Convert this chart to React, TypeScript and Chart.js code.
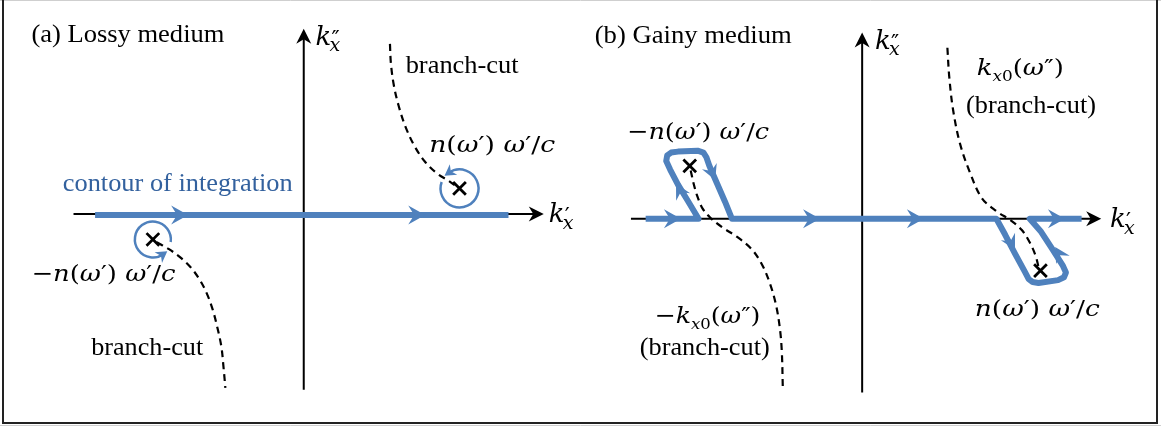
import React, { useEffect, useRef } from 'react';
import { Chart, registerables } from 'chart.js';

Chart.register(...registerables);

type P = { x: number; y: number };
const pts = (a: number[][]): P[] => a.map(([x, y]) => ({ x, y }));

// ---------------- Panel (a): lossy medium ----------------
const axisA_re = pts([[63, 214], [533, 214]]);
const axisA_im = pts([[298, 400], [298, 28]]);
const contourA = pts([[85, 215], [507, 215]]);
const branchCutA_lower = pts([
  [148, 244], [160, 251], [172, 260], [183, 271], [192, 284], [199, 298],
  [205, 315], [210, 335], [214, 355], [216, 375], [218, 398],
]);
const branchCutA_upper = pts([
  [386, 34], [387, 55], [390, 78], [395, 100], [402, 122], [411, 142],
  [422, 159], [434, 171], [446, 179], [454, 185],
]);
const polesA = pts([[457, 187], [144, 241]]);
const contourArrowsA = [
  { x: 180, y: 215, dx: 1, dy: 0 },
  { x: 422, y: 215, dx: 1, dy: 0 },
];
const loopsA = [
  { x: 457, y: 187, r: 19, from: -160, to: -125 },
  { x: 144, y: 241, r: 18, from: 8, to: 55 },
];

// ---------------- Panel (b): gainy medium ----------------
const axisB_re = pts([[632, 219], [1103, 219]]);
const axisB_im = pts([[868, 403], [868, 32]]);
const contourB = pts([
  [647, 219], [701, 219],
  [690, 200], [680, 183], [672, 167], [668, 158], [669, 152], [673, 149], [680, 148],
  [700, 147], [706, 149], [709, 154], [712, 163], [720, 182], [728, 201], [735, 219],
  [1005, 219],
  [1014, 236], [1024, 256], [1034, 275], [1038, 283], [1042, 286], [1048, 287],
  [1068, 284], [1074, 281], [1076, 276], [1073, 269], [1062, 251], [1050, 232], [1039, 219],
  [1092, 219],
]);
const branchCutB_left = pts([
  [693, 168], [696, 182], [700, 196], [705, 208], [713, 218], [725, 228], [740, 238],
  [755, 251], [766, 268], [774, 288], [780, 310], [784, 335], [786, 360], [787, 398],
]);
const branchCutB_right = pts([
  [955, 38], [957, 70], [961, 105], [968, 140], [978, 170], [990, 197], [1005, 211],
  [1020, 221], [1031, 231], [1039, 244], [1045, 258], [1048, 270],
]);
const polesB = pts([[692, 163], [1050, 274]]);
const contourArrowsB = [
  { x: 683, y: 219, dx: 1, dy: 0 },
  { x: 825, y: 219, dx: 1, dy: 0 },
  { x: 931, y: 219, dx: 1, dy: 0 },
  { x: 1075, y: 219, dx: 1, dy: 0 },
];
const legArrowsB = [
  { x: 718, y: 178, dx: 27, dy: 64 },
  { x: 678, y: 182, dx: -33, dy: -61 },
  { x: 1024, y: 252, dx: 35, dy: 66 },
  { x: 1065, y: 249, dx: -37, dy: -61 },
];
const axisArrows = [
  { x: 543, y: 214, dx: 1, dy: 0 },
  { x: 298, y: 18, dx: 0, dy: -1 },
  { x: 1112, y: 219, dx: 1, dy: 0 },
  { x: 868, y: 22, dx: 0, dy: -1 },
];

// ---------------- Text ----------------
const SERIF = '"Liberation Serif"';
const MATH = '"DejaVu Serif"';
const BLUE_LINE = '#4F81BD';
const BLUE_TEXT = '#33619E';

type Part = { t: string; f: string; dy?: number };
const fR = (s: number) => `${s}px ${MATH}`;
const fI = (s: number) => `italic ${s}px ${MATH}`;
const plain = (t: string): Part[] => [{ t, f: `26px ${SERIF}` }];
const nOmega = (minus: boolean): Part[] => [
  ...(minus ? [{ t: '\u2212', f: fR(23) }] : []),
  { t: 'n', f: fI(23) }, { t: '(', f: fR(23) }, { t: '\u03C9', f: fI(23) }, { t: '\u2032', f: fR(23) },
  { t: ')', f: fR(23) }, { t: ' ', f: fR(23) }, { t: '\u03C9', f: fI(23) }, { t: '\u2032', f: fR(23) },
  { t: '/', f: fR(23) }, { t: 'c', f: fI(23) },
];
const kx0 = (minus: boolean): Part[] => [
  ...(minus ? [{ t: '\u2212', f: fR(23) }] : []),
  { t: 'k', f: fI(23) }, { t: 'x', f: fI(15), dy: 6 }, { t: '0', f: fR(15), dy: 6 },
  { t: '(', f: fR(23) }, { t: '\u03C9', f: fI(23) }, { t: '\u2033', f: fR(23) }, { t: ')', f: fR(23) },
];

const labels = [
  { parts: plain('(a) Lossy medium'), x: 20, y: 32, w: 193, c: '#000' },
  { parts: plain('branch-cut'), x: 402, y: 65, w: 113, c: '#000' },
  { parts: plain('contour of integration'), x: 52, y: 190, w: 230, c: BLUE_TEXT },
  { parts: plain('branch-cut'), x: 81, y: 363, w: 112, c: '#000' },
  { parts: nOmega(false), x: 426, y: 148, w: 126, c: '#000' },
  { parts: nOmega(true), x: 20, y: 285, w: 144, c: '#000' },
  { parts: plain('(b) Gainy medium'), x: 595, y: 33, w: 197, c: '#000' },
  { parts: kx0(false), x: 985, y: 67, w: 87, c: '#000' },
  { parts: plain('(branch-cut)'), x: 974, y: 107, w: 130, c: '#000' },
  { parts: nOmega(true), x: 628, y: 135, w: 142, c: '#000' },
  { parts: nOmega(false), x: 983, y: 322, w: 125, c: '#000' },
  { parts: kx0(true), x: 656, y: 329, w: 106, c: '#000' },
  { parts: plain('(branch-cut)'), x: 641, y: 363, w: 130, c: '#000' },
];
const axisLabels = [
  { x: 310, y: 35, prime: '\u2033', sub: 42 },
  { x: 548, y: 222, prime: '\u2032', sub: 230 },
  { x: 881, y: 39, prime: '\u2033', sub: 46 },
  { x: 1121, y: 228, prime: '\u2032', sub: 235 },
];

function drawRich(ctx: CanvasRenderingContext2D, x: number, y: number, parts: Part[], tw: number, color: string) {
  let w = 0;
  for (const p of parts) { ctx.font = p.f; w += ctx.measureText(p.t).width; }
  let s = tw / w;
  s = Math.max(0.8, Math.min(1.25, s));
  ctx.save();
  ctx.fillStyle = color;
  ctx.textBaseline = 'alphabetic';
  ctx.translate(x, y);
  ctx.scale(s, 1);
  let cx = 0;
  for (const p of parts) {
    ctx.font = p.f;
    ctx.fillText(p.t, cx, p.dy || 0);
    cx += ctx.measureText(p.t).width;
  }
  ctx.restore();
}

function arrowHead(ctx: CanvasRenderingContext2D, tx: number, ty: number, dx: number, dy: number, L: number, W: number, notch: number, color: string) {
  const n = Math.hypot(dx, dy);
  const ux = dx / n, uy = dy / n, px = -uy, py = ux;
  ctx.save();
  ctx.fillStyle = color;
  ctx.beginPath();
  ctx.moveTo(tx, ty);
  ctx.lineTo(tx - ux * L + px * W, ty - uy * L + py * W);
  ctx.lineTo(tx - ux * L * (1 - notch), ty - uy * L * (1 - notch));
  ctx.lineTo(tx - ux * L - px * W, ty - uy * L - py * W);
  ctx.closePath();
  ctx.fill();
  ctx.restore();
}

const diagramPlugin = {
  id: 'diagram',
  afterDatasetsDraw(chart: any) {
    const ctx: CanvasRenderingContext2D = chart.ctx;
    const xs = chart.scales.x, ys = chart.scales.y;
    const X = (v: number) => xs.getPixelForValue(v);
    const Y = (v: number) => ys.getPixelForValue(v);

    for (const a of axisArrows) arrowHead(ctx, X(a.x), Y(a.y), a.dx, a.dy, 15, 7.5, 0.3, '#000');
    for (const a of [...contourArrowsA, ...contourArrowsB]) arrowHead(ctx, X(a.x), Y(a.y), a.dx, a.dy, 17, 9.5, 0.35, BLUE_LINE);
    for (const a of legArrowsB) arrowHead(ctx, X(a.x), Y(a.y), a.dx, a.dy, 15, 8, 0.35, BLUE_LINE);

    for (const l of loopsA) {
      const cx = X(l.x), cy = Y(l.y);
      const a0 = (l.from * Math.PI) / 180, a1 = (l.to * Math.PI) / 180;
      ctx.save();
      ctx.strokeStyle = BLUE_LINE;
      ctx.lineWidth = 2.5;
      ctx.beginPath();
      ctx.arc(cx, cy, l.r, a0, a1, true);
      ctx.stroke();
      ctx.restore();
      const ex = cx + l.r * Math.cos(a1), ey = cy + l.r * Math.sin(a1);
      const dx = Math.sin(a1), dy = -Math.cos(a1);
      arrowHead(ctx, ex + dx * 5, ey + dy * 5, dx, dy, 11, 6.5, 0.3, BLUE_LINE);
    }

    for (const l of labels) drawRich(ctx, X(l.x), Y(l.y), l.parts, l.w, l.c);
    for (const a of axisLabels) {
      ctx.save();
      ctx.fillStyle = '#000';
      ctx.font = fI(26);
      ctx.fillText('k', X(a.x), Y(a.y));
      ctx.font = fR(22);
      ctx.fillText(a.prime, X(a.x) + 16, Y(a.y) + 1);
      ctx.font = fI(19);
      ctx.fillText('x', X(a.x) + 14, Y(a.sub));
      ctx.restore();
    }

    ctx.save();
    ctx.strokeStyle = '#cfcfcf';
    ctx.lineWidth = 1;
    ctx.beginPath(); ctx.moveTo(0, 0.5); ctx.lineTo(1161, 0.5); ctx.stroke();
    ctx.beginPath(); ctx.moveTo(0, 425.5); ctx.lineTo(1161, 425.5); ctx.stroke();
    ctx.strokeStyle = '#222';
    ctx.lineWidth = 2;
    ctx.beginPath();
    ctx.moveTo(3, 0); ctx.lineTo(3, 423); ctx.lineTo(1157, 423); ctx.lineTo(1157, 0);
    ctx.stroke();
    ctx.restore();
  },
};

const lineDs = (data: P[], color: string, width: number, order: number, extra: any = {}) => ({
  data, showLine: true, borderColor: color, backgroundColor: color, borderWidth: width,
  pointRadius: 0, pointHoverRadius: 0, tension: 0, order, borderJoinStyle: 'round', borderCapStyle: 'butt',
  ...extra,
});

export default function App() {
  const ref = useRef<HTMLCanvasElement | null>(null);
  useEffect(() => {
    if (!ref.current) return;
    let alive = true;
    const dash = { borderDash: [7, 5], tension: 0.35 };
    const chart = new Chart(ref.current, {
      type: 'scatter',
      data: {
        datasets: [
          lineDs(axisA_re, '#000', 2, 5),
          lineDs(axisA_im, '#000', 2, 5),
          lineDs(axisB_re, '#000', 2, 5),
          lineDs(axisB_im, '#000', 2, 5),
          lineDs(branchCutA_lower, '#000', 2.2, 4, dash),
          lineDs(branchCutA_upper, '#000', 2.2, 4, dash),
          lineDs(branchCutB_left, '#000', 2.2, 4, dash),
          lineDs(branchCutB_right, '#000', 2.2, 4, dash),
          lineDs(contourA, BLUE_LINE, 6, 3),
          lineDs(contourB, BLUE_LINE, 6, 3),
          {
            data: [...polesA, ...polesB], showLine: false, pointStyle: 'crossRot', pointRadius: 9,
            pointBorderWidth: 2.8, borderWidth: 2.8, borderColor: '#000', backgroundColor: '#000', order: 0,
          },
        ] as any,
      },
      options: {
        animation: false,
        responsive: false,
        maintainAspectRatio: false,
        events: [],
        layout: { padding: 0 },
        plugins: { legend: { display: false }, tooltip: { enabled: false }, title: { display: false } },
        scales: {
          x: { type: 'linear', min: 0, max: 1161, display: false },
          y: { type: 'linear', min: 0, max: 427, reverse: true, display: false },
        },
      } as any,
      plugins: [diagramPlugin],
    });
    const fonts: any = (document as any).fonts;
    if (fonts && fonts.load) {
      Promise.all([
        fonts.load('26px "Liberation Serif"'),
        fonts.load('23px "DejaVu Serif"'),
        fonts.load('italic 23px "DejaVu Serif"'),
      ]).then(() => { if (alive) chart.draw(); }).catch(() => {});
    }
    return () => { alive = false; chart.destroy(); };
  }, []);
  return (
    <div style={{ position: 'absolute', left: 0, top: 0, width: 1161, height: 427, background: '#fff' }}>
      <canvas ref={ref} width={1161} height={427} style={{ display: 'block' }} />
    </div>
  );
}
